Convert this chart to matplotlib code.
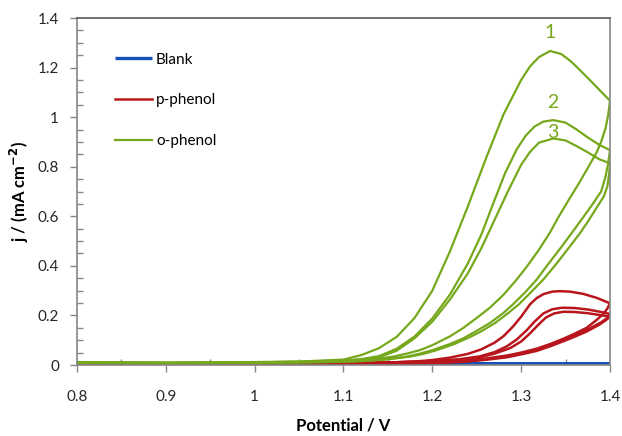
import matplotlib.pyplot as plt
from matplotlib.ticker import MultipleLocator, FuncFormatter

plt.rcParams['font.family'] = ['Lato', 'DejaVu Sans']

GREEN = '#76a81c'
RED = '#b8161c'
BLUE = '#1552b8'

# o-phenol, cycles 1-3 (forward scan, then reverse scan)
o1_v = [0.80, 0.90, 1.00, 1.05, 1.10, 1.12, 1.14, 1.16, 1.18, 1.20, 1.22, 1.24, 1.26, 1.28, 1.30, 1.31,
        1.32, 1.3325, 1.345, 1.355, 1.3625, 1.38, 1.40,
        1.398, 1.395, 1.39, 1.385, 1.375, 1.365, 1.353, 1.3425, 1.3325, 1.32, 1.307, 1.295, 1.28, 1.265,
        1.25, 1.235, 1.22, 1.20, 1.186, 1.17, 1.156, 1.14, 1.12, 1.10, 1.05, 1.00, 0.90, 0.80]
o1_j = [0.012, 0.010, 0.012, 0.014, 0.022, 0.040, 0.068, 0.114, 0.190, 0.300, 0.460, 0.640, 0.830, 1.010,
        1.150, 1.205, 1.242, 1.267, 1.255, 1.228, 1.203, 1.140, 1.066,
        1.010, 0.955, 0.900, 0.858, 0.795, 0.733, 0.663, 0.600, 0.535, 0.465, 0.400, 0.345, 0.283, 0.232,
        0.190, 0.150, 0.116, 0.080, 0.060, 0.045, 0.034, 0.026, 0.019, 0.015, 0.011, 0.009, 0.007, 0.008]

o2_v = [0.80, 0.90, 1.00, 1.05, 1.10, 1.12, 1.14, 1.16, 1.18, 1.20, 1.22, 1.24, 1.255, 1.27, 1.282, 1.295,
        1.305, 1.315, 1.325, 1.3362, 1.35, 1.3625, 1.375, 1.388, 1.40,
        1.398, 1.395, 1.39, 1.38, 1.37, 1.357, 1.345, 1.33, 1.3175, 1.305, 1.29, 1.28, 1.265, 1.25, 1.235,
        1.22, 1.20, 1.185, 1.171, 1.15, 1.12, 1.10, 1.00, 0.90, 0.80]
o2_j = [0.011, 0.009, 0.011, 0.013, 0.018, 0.024, 0.036, 0.066, 0.115, 0.188, 0.285, 0.410, 0.525, 0.665,
        0.775, 0.870, 0.925, 0.962, 0.982, 0.988, 0.978, 0.950, 0.918, 0.888, 0.867,
        0.815, 0.760, 0.700, 0.647, 0.597, 0.533, 0.475, 0.405, 0.345, 0.295, 0.242, 0.210, 0.170, 0.138,
        0.108, 0.085, 0.060, 0.045, 0.034, 0.024, 0.016, 0.013, 0.008, 0.006, 0.008]

o3_v = [0.80, 0.90, 1.00, 1.05, 1.10, 1.12, 1.14, 1.16, 1.18, 1.20, 1.22, 1.24, 1.255, 1.27, 1.285, 1.30,
        1.31, 1.32, 1.3362, 1.35, 1.3625, 1.375, 1.388, 1.40,
        1.399, 1.397, 1.393, 1.385, 1.375, 1.366, 1.353, 1.34, 1.325, 1.31, 1.2975, 1.2856, 1.27, 1.255,
        1.2425, 1.225, 1.205, 1.19, 1.175, 1.15, 1.12, 1.10, 1.00, 0.90, 0.80]
o3_j = [0.011, 0.009, 0.011, 0.013, 0.017, 0.022, 0.031, 0.058, 0.108, 0.175, 0.265, 0.370, 0.470, 0.585,
        0.700, 0.808, 0.860, 0.897, 0.914, 0.906, 0.883, 0.858, 0.830, 0.814,
        0.770, 0.720, 0.680, 0.635, 0.578, 0.531, 0.470, 0.410, 0.345, 0.290, 0.245, 0.210, 0.168, 0.136,
        0.113, 0.085, 0.060, 0.045, 0.034, 0.023, 0.016, 0.013, 0.008, 0.006, 0.008]

# p-phenol, cycles 1-3
p1_v = [0.80, 1.00, 1.10, 1.15, 1.18, 1.20, 1.22, 1.24, 1.255, 1.27, 1.28, 1.29, 1.30, 1.31, 1.3175,
        1.325, 1.335, 1.3437, 1.355, 1.37, 1.385, 1.40,
        1.397, 1.393, 1.385, 1.3737, 1.36, 1.3475, 1.333, 1.3175, 1.30, 1.2837, 1.26, 1.235, 1.20, 1.15,
        1.00, 0.80]
p1_j = [0.003, 0.004, 0.007, 0.010, 0.014, 0.020, 0.030, 0.045, 0.063, 0.090, 0.116, 0.152, 0.195, 0.245,
        0.270, 0.286, 0.296, 0.298, 0.296, 0.287, 0.271, 0.249,
        0.228, 0.208, 0.182, 0.150, 0.126, 0.106, 0.085, 0.066, 0.050, 0.038, 0.026, 0.017, 0.011, 0.008,
        0.004, 0.002]

p2_v = [0.80, 1.00, 1.10, 1.15, 1.20, 1.23, 1.2537, 1.27, 1.2837, 1.295, 1.3062, 1.315, 1.325, 1.335,
        1.3456, 1.36, 1.375, 1.39, 1.40,
        1.397, 1.39, 1.3737, 1.36, 1.3475, 1.333, 1.3175, 1.30, 1.2837, 1.26, 1.235, 1.20, 1.15, 1.00, 0.80]
p2_j = [0.003, 0.004, 0.007, 0.010, 0.016, 0.023, 0.035, 0.052, 0.075, 0.103, 0.140, 0.175, 0.208, 0.225,
        0.231, 0.230, 0.224, 0.214, 0.206,
        0.190, 0.172, 0.141, 0.120, 0.101, 0.080, 0.061, 0.046, 0.034, 0.023, 0.014, 0.009, 0.006, 0.003, 0.001]

p3_v = [0.80, 1.00, 1.10, 1.15, 1.20, 1.23, 1.2537, 1.27, 1.2875, 1.30, 1.31, 1.32, 1.328, 1.337, 1.3475,
        1.36, 1.375, 1.39, 1.40,
        1.395, 1.388, 1.3737, 1.36, 1.3475, 1.333, 1.3175, 1.30, 1.2837, 1.26, 1.235, 1.20, 1.15, 1.00, 0.80]
p3_j = [0.003, 0.004, 0.007, 0.010, 0.015, 0.021, 0.031, 0.046, 0.068, 0.095, 0.128, 0.165, 0.192, 0.208,
        0.215, 0.214, 0.209, 0.201, 0.195,
        0.180, 0.163, 0.135, 0.114, 0.096, 0.076, 0.057, 0.043, 0.031, 0.021, 0.013, 0.008, 0.005, 0.003, 0.001]

# blank electrode
blank_v = [0.80, 1.00, 1.20, 1.40, 1.20, 1.00, 0.80]
blank_j = [0.002, 0.003, 0.004, 0.005, 0.004, 0.003, 0.002]

cycle_labels = ['1', '2', '3']
cycle_label_v = [1.3325, 1.336, 1.336]
cycle_label_j = [1.343, 1.060, 0.938]

fig = plt.figure(figsize=(6.22, 4.36), dpi=100)
ax = fig.add_axes([0.1238, 0.1628, 0.8569, 0.7959])

ax.plot(blank_v, blank_j, color=BLUE, lw=2.4, label='Blank', solid_capstyle='butt')
ax.plot(p1_v, p1_j, color=RED, lw=1.8, label='p-phenol', solid_joinstyle='round')
ax.plot(p2_v, p2_j, color=RED, lw=1.8, solid_joinstyle='round')
ax.plot(p3_v, p3_j, color=RED, lw=1.8, solid_joinstyle='round')
ax.plot(o1_v, o1_j, color=GREEN, lw=1.6, label='o-phenol', solid_joinstyle='round')
ax.plot(o2_v, o2_j, color=GREEN, lw=1.6, solid_joinstyle='round')
ax.plot(o3_v, o3_j, color=GREEN, lw=1.6, solid_joinstyle='round')

for t, v, j in zip(cycle_labels, cycle_label_v, cycle_label_j):
    ax.text(v, j, t, color=GREEN, fontsize=14, ha='center', va='center')

ax.set_xlim(0.8, 1.4)
ax.set_ylim(0, 1.4)
ax.xaxis.set_major_locator(MultipleLocator(0.1))
ax.xaxis.set_minor_locator(MultipleLocator(0.05))
ax.yaxis.set_major_locator(MultipleLocator(0.2))
ax.yaxis.set_minor_locator(MultipleLocator(0.05))
fmt = FuncFormatter(lambda x, p: ('%.1f' % x).rstrip('0').rstrip('.') if abs(x) > 1e-9 else '0')
ax.xaxis.set_major_formatter(fmt)
ax.yaxis.set_major_formatter(fmt)

ax.tick_params(which='major', direction='out', length=5, width=1, color='#868686',
               labelsize=11, labelcolor='#262626')
ax.tick_params(axis='y', which='major', pad=8)
ax.tick_params(axis='x', which='major', pad=13)
ax.tick_params(which='minor', direction='in', length=4, width=1, color='#868686')

for s in ['left', 'bottom', 'right']:
    ax.spines[s].set_color('#868686')
    ax.spines[s].set_linewidth(1.2)
ax.spines['top'].set_color('#595959')
ax.spines['top'].set_linewidth(1.2)

ax.set_xlabel('Potential / V', fontsize=12, fontweight='bold', labelpad=10)
ax.set_ylabel(r'j / (mA cm$^{\mathbf{-2}}$)', fontsize=12, fontweight='bold', labelpad=5)

ax.legend(loc='upper left', bbox_to_anchor=(0.071, 0.9), frameon=False, fontsize=11,
          handlelength=2.4, handletextpad=0.3, labelspacing=1.75, borderpad=0, borderaxespad=0)

fig.savefig('out.png', dpi=100)
